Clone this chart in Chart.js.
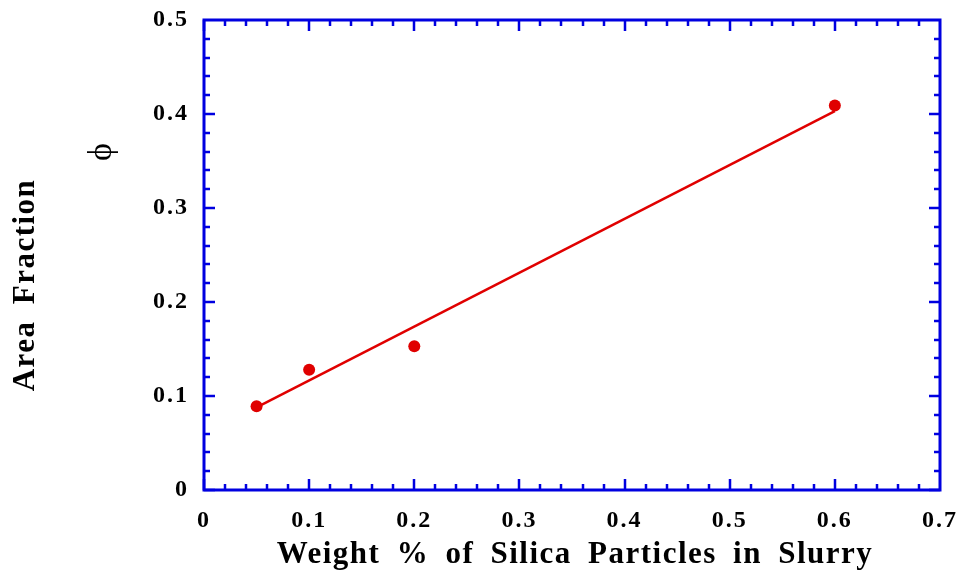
<!DOCTYPE html>
<html>
<head>
<meta charset="utf-8">
<script src="https://cdn.jsdelivr.net/npm/chart.js@4.4.1/dist/chart.umd.min.js"></script>
<style>
  html, body { margin: 0; padding: 0; background: #fff; }
  #wrap { width: 966px; height: 575px; }
</style>
</head>
<body>
<div id="wrap"><canvas id="c" width="966" height="575"></canvas></div>
<script>
const weightPct = [0.05, 0.1, 0.2, 0.6];
const areaFrac = [0.089, 0.128, 0.153, 0.409];

// linear fit drawn through the data
const fitX = [0.05, 0.6];
const fitY = [0.088, 0.403];

// axis ticks
const xTicks = [0, 0.1, 0.2, 0.3, 0.4, 0.5, 0.6, 0.7];
const yTicks = [0, 0.1, 0.2, 0.3, 0.4, 0.5];
const xMinor = 5; // subdivisions per major
const yMinor = 5;

const AXIS = '#0000e0';
const RED = '#e00000';
const SERIF = '"Liberation Serif", "Times New Roman", serif';

// frame + inside ticks on all four sides, plus the axis titles
const framePlugin = {
  id: 'frame',
  beforeDraw(chart) {
    chart.ctx.letterSpacing = '2px';
  },
  afterDraw(chart) {
    const ctx = chart.ctx;
    const xs = chart.scales.x, ys = chart.scales.y;
    const a = chart.chartArea;
    ctx.save();
    ctx.letterSpacing = '0px';
    ctx.strokeStyle = AXIS;
    ctx.lineCap = 'butt';

    ctx.lineWidth = 2.5;
    ctx.beginPath();
    for (let i = 0; i < xTicks.length - 1; i++) {
      const step = (xTicks[i + 1] - xTicks[i]) / xMinor;
      for (let k = 0; k < xMinor; k++) {
        const v = xTicks[i] + k * step;
        const px = Math.round(xs.getPixelForValue(v));
        const len = k === 0 ? 11 : 6;
        ctx.moveTo(px, a.bottom); ctx.lineTo(px, a.bottom - len);
        ctx.moveTo(px, a.top); ctx.lineTo(px, a.top + len);
      }
    }
    for (let i = 0; i < yTicks.length - 1; i++) {
      const step = (yTicks[i + 1] - yTicks[i]) / yMinor;
      for (let k = 0; k < yMinor; k++) {
        const v = yTicks[i] + k * step;
        const py = Math.round(ys.getPixelForValue(v));
        const len = k === 0 ? 11 : 6;
        ctx.moveTo(a.left, py); ctx.lineTo(a.left + len, py);
        ctx.moveTo(a.right, py); ctx.lineTo(a.right - len, py);
      }
    }
    ctx.stroke();

    ctx.lineWidth = 3;
    ctx.strokeRect(a.left, a.top, a.right - a.left, a.bottom - a.top);

    // titles
    ctx.fillStyle = '#000';
    ctx.textAlign = 'center';
    ctx.textBaseline = 'middle';
    ctx.font = 'bold 31px ' + SERIF;
    ctx.letterSpacing = '1.5px';
    ctx.wordSpacing = '7px';
    ctx.fillText('Weight % of Silica Particles in Slurry', 575, 555);

    ctx.save();
    ctx.translate(26, 285);
    ctx.rotate(-Math.PI / 2);
    ctx.fillText('Area Fraction', 0, 0);
    ctx.restore();

    ctx.save();
    ctx.translate(102, 152);
    ctx.rotate(-Math.PI / 2);
    ctx.letterSpacing = '0px';
    ctx.font = '34px ' + SERIF;
    ctx.fillText('\u03d5', 0, 0);
    ctx.restore();

    ctx.restore();
  }
};

new Chart(document.getElementById('c'), {
  type: 'scatter',
  data: {
    datasets: [
      {
        label: 'fit',
        type: 'line',
        data: fitX.map((x, i) => ({ x: x, y: fitY[i] })),
        borderColor: RED,
        borderWidth: 2.5,
        pointRadius: 0,
        fill: false,
        tension: 0
      },
      {
        label: 'data',
        data: weightPct.map((x, i) => ({ x: x, y: areaFrac[i] })),
        backgroundColor: RED,
        borderColor: RED,
        pointRadius: 6,
        borderWidth: 0
      }
    ]
  },
  options: {
    responsive: false,
    animation: false,
    devicePixelRatio: 1,
    layout: { padding: { top: 20, right: 26, left: 0, bottom: 0 } },
    plugins: { legend: { display: false }, tooltip: { enabled: false } },
    scales: {
      x: {
        type: 'linear',
        min: 0, max: 0.7,
        afterBuildTicks: (axis) => { axis.ticks = xTicks.map(v => ({ value: v })); },
        afterFit: (axis) => { axis.height = 85; axis.paddingLeft = 0; axis.paddingRight = 0; },
        grid: { display: false, drawTicks: false },
        border: { display: false },
        ticks: {
          padding: 16,
          color: '#000',
          maxRotation: 0,
          font: { family: SERIF, size: 24, weight: 'bold' },
          callback: (v) => v === 0 ? '0' : v.toFixed(1)
        }
      },
      y: {
        type: 'linear',
        min: 0, max: 0.5,
        afterBuildTicks: (axis) => { axis.ticks = yTicks.map(v => ({ value: v })); },
        afterFit: (axis) => { axis.width = 204; axis.paddingTop = 0; axis.paddingBottom = 0; },
        grid: { display: false, drawTicks: false },
        border: { display: false },
        ticks: {
          padding: 15,
          color: '#000',
          font: { family: SERIF, size: 24, weight: 'bold' },
          callback: (v) => v === 0 ? '0' : v.toFixed(1)
        }
      }
    }
  },
  plugins: [framePlugin]
});
</script>
</body>
</html>
